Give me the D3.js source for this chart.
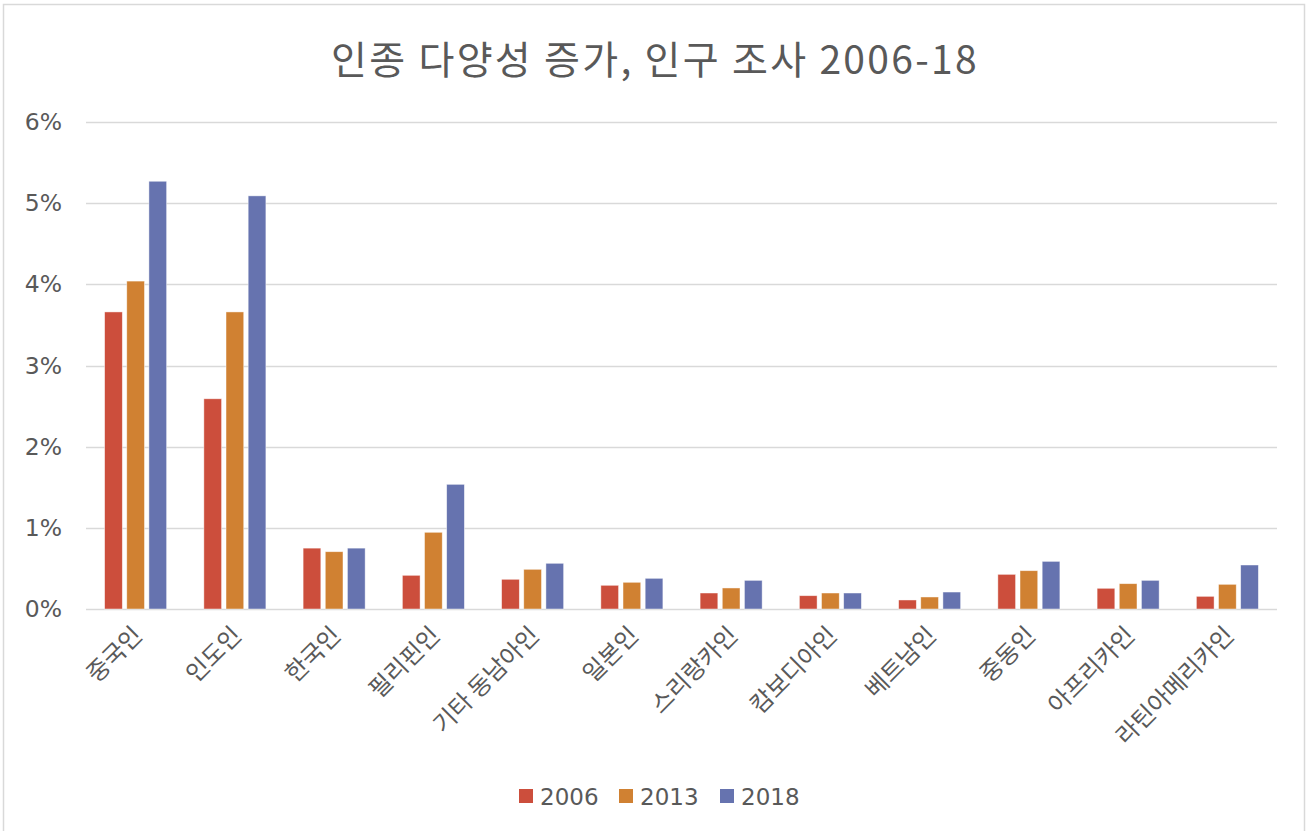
<!DOCTYPE html>
<html>
<head>
<meta charset="utf-8">
<script src="https://cdn.jsdelivr.net/npm/d3@7/dist/d3.min.js"></script>
<style>
  html, body { margin: 0; padding: 0; background: #fff; }
  svg { display: block; }
</style>
</head>
<body>
<svg id="chart" width="1307" height="831"></svg>
<script>
const categories = ["중국인", "인도인", "한국인", "필리핀인", "기타 동남아인", "일본인", "스리랑카인", "캄보디아인", "베트남인", "중동인", "아프리카인", "라틴아메리카인"];
const seriesNames = ["2006", "2013", "2018"];
const values2006 = [3.66, 2.59, 0.75, 0.415, 0.366, 0.292, 0.197, 0.164, 0.111, 0.427, 0.255, 0.156];
const values2013 = [4.04, 3.66, 0.706, 0.945, 0.489, 0.329, 0.259, 0.197, 0.148, 0.472, 0.312, 0.304];
const values2018 = [5.27, 5.09, 0.75, 1.536, 0.563, 0.378, 0.353, 0.197, 0.209, 0.587, 0.353, 0.542];
const yTicks = [0, 1, 2, 3, 4, 5, 6];
const colors = ["#CC4E3C", "#D08132", "#6673AF"];
const title = "인종 다양성 증가, 인구 조사 2006-18";

const seriesValues = [values2006, values2013, values2018];
const svg = d3.select("#chart");

// outer border
svg.append("rect").attr("x", 3.5).attr("y", 4.5).attr("width", 1301).attr("height", 830)
  .attr("fill", "#fff").attr("stroke", "#d9d9d9").attr("stroke-width", 1.5);

const plot = { left: 86, right: 1277, top: 122, bottom: 609 };

const x0 = d3.scaleBand().domain(categories).range([plot.left, plot.right])
  .paddingInner(0.375).paddingOuter(0.1875);
const x1 = d3.scaleBand().domain(seriesNames).range([0, x0.bandwidth()]).paddingInner(0.2);
const y = d3.scaleLinear().domain([0, 6]).range([plot.bottom, plot.top]);

// gridlines
svg.append("g").selectAll("line").data(yTicks).join("line")
  .attr("x1", plot.left).attr("x2", plot.right)
  .attr("y1", d => Math.round(y(d)) + 0.5).attr("y2", d => Math.round(y(d)) + 0.5)
  .attr("stroke", "#d9d9d9").attr("stroke-width", 1.5);

// y axis labels
const yAxis = d3.axisLeft(y).tickValues(yTicks).tickFormat(d => d + "%").tickSize(0).tickPadding(0);
const yg = svg.append("g").attr("transform", `translate(62,0)`).call(yAxis);
yg.select(".domain").remove();
yg.selectAll("text").attr("font-family", "DejaVu Sans, Verdana, sans-serif")
  .attr("font-size", 23.5).attr("fill", "#595959");

// bars
const groups = svg.append("g").selectAll("g").data(categories).join("g")
  .attr("transform", d => `translate(${x0(d)},0)`);
groups.selectAll("rect").data((c, i) => seriesNames.map((s, j) => ({ s, j, v: seriesValues[j][i] })))
  .join("rect")
  .attr("x", d => x1(d.s))
  .attr("width", x1.bandwidth())
  .attr("y", d => y(d.v))
  .attr("height", d => y(0) - y(d.v))
  .attr("fill", d => colors[d.j])
  .attr("stroke", "#ffffff").attr("stroke-opacity", 0.6).attr("stroke-width", 0.75);

// x axis labels
const xAxis = d3.axisBottom(x0).tickSize(0).tickPadding(0);
const xg = svg.append("g").attr("transform", `translate(0,${plot.bottom})`).call(xAxis);
xg.select(".domain").remove();
xg.selectAll("text")
  .attr("font-family", "'Noto Sans CJK KR', sans-serif")
  .attr("font-size", 24)
  .attr("fill", "#595959")
  .attr("text-anchor", "end")
  .attr("dy", 0)
  .attr("transform", "translate(8,28) rotate(-45)");

// title
svg.append("text").attr("x", 655).attr("y", 74).attr("text-anchor", "middle")
  .attr("font-family", "'Noto Sans CJK KR', sans-serif").attr("font-size", 39)
  .attr("letter-spacing", 2.3)
  .attr("fill", "#595959").text(title);

// legend
const legendX = [519, 619, 720];
const lg = svg.append("g").selectAll("g").data(seriesNames).join("g")
  .attr("transform", (d, i) => `translate(${legendX[i]},789)`);
lg.append("rect").attr("width", 14).attr("height", 14).attr("fill", (d, i) => colors[i]);
lg.append("text").attr("x", 21).attr("y", 16).text(d => d)
  .attr("font-family", "DejaVu Sans, Verdana, sans-serif").attr("font-size", 23).attr("fill", "#595959");
</script>
</body>
</html>
